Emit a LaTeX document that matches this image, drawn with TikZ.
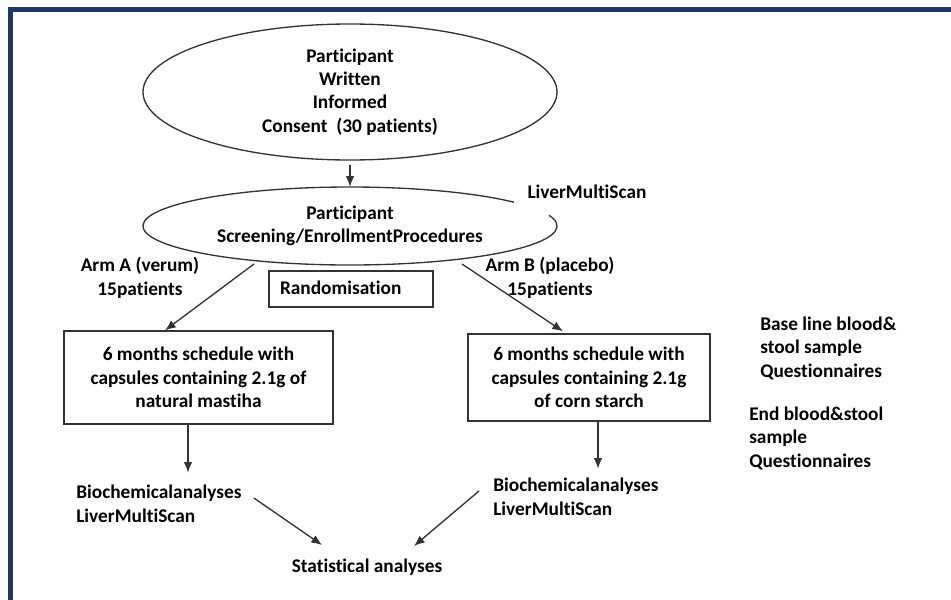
\documentclass[tikz,border=0pt]{standalone}
\usepackage{fontspec}
\setmainfont{Carlito}[RawFeature={-liga}]
\usepackage{tikz}
\usetikzlibrary{shapes.geometric,arrows.meta,calc}
\definecolor{frameblue}{RGB}{31,56,99}

\begin{document}
\begin{tikzpicture}[x=0.75pt,y=0.75pt,yscale=-1,xscale=1,
  every node/.style={font=\fontsize{14.5}{17.6}\selectfont\bfseries, inner sep=0pt},
  line/.style={draw=black!80, line width=1pt},
  arr/.style={line, -{Latex[length=8pt,width=6.5pt]}},
  ell/.style={ellipse, minimum width=310.5pt, align=center},
  box/.style={rectangle, draw=black!80, line width=1pt, align=center}]
\useasboundingbox (0,0) rectangle (951,600);

%Frame
\draw [frameblue, line width=3.75pt] (10.7,600) -- (10.7,9.5) -- (951,9.5) ;

%Shape: Ellipse
\node [ell, line, minimum height=102pt] (consent) at (350,92) {Participant\\Written\\Informed\\Consent~~(30 patients)};
%Shape: Ellipse, left open at upper right
\node [ell, minimum height=58.5pt] (scr) at (350,226) {Participant\\Screening/EnrollmentProcedures};
\draw [line] (scr.center) ++(-16:207 and 39) arc [start angle=-16, end angle=322.4, x radius=207, y radius=39] ;

% Text Node
\node (lmsTop) at (587,192) {LiverMultiScan};
% Text Node
\node [align=center] (armA) at (140,278) {Arm A (verum)\\15patients};
% Text Node
\node [align=center] (armB) at (550,278) {Arm B (placebo)\\15patients};

%Shape: Rectangle
\node [box, align=left, text width=106.5pt, inner xsep=8.25pt, minimum height=27pt] (rand) at (351,289) {\raisebox{2pt}{Randomisation}};
%Shape: Rectangle
\node [box, minimum width=201.75pt, minimum height=69.75pt] (boxA) at (198.5,377.5) {6 months schedule with\\capsules containing 2.1g of\\natural mastiha};
%Shape: Rectangle
\node [box, minimum width=181.5pt, minimum height=65.25pt] (boxB) at (589,377.5) {6 months schedule with\\capsules containing 2.1g\\of corn starch};

% Text Node
\node [anchor=west, align=left] (bioA) at (76,504) {Biochemicalanalyses\\LiverMultiScan};
% Text Node
\node [anchor=west, align=left] (bioB) at (493,497) {Biochemicalanalyses\\LiverMultiScan};
% Text Node
\node (stats) at (367,567) {Statistical analyses};
% Text Node
\node [anchor=west, align=left] (baseNote) at (760,348) {Base line blood\&\\stool sample\\Questionnaires};
% Text Node
\node [anchor=west, align=left] (endNote) at (749,438) {End blood\&stool\\sample\\Questionnaires};

%Straight Lines
\draw [arr, shorten <=3pt] (consent) -- (scr) ;
\draw [arr] ($(scr.center)+(-96,38)$) -- ($(boxA.north)+(-33.5,0)$) ;
\draw [arr] ($(scr.center)+(112,38)$) -- ($(boxB.north)+(-26,-2)$) ;
\draw [arr] ($(boxA.south)+(-10.5,0)$) -- ++(0,48) ;
\draw [arr] ($(boxB.south)+(9,0)$) -- ++(0,47) ;
\draw [arr] ($(bioA.east)+(12,-6)$) -- ($(stats.center)+(-45,-22)$) ;
\draw [arr] ($(bioB.west)+(-14,-6)$) -- ($(stats.center)+(47,-21)$) ;

\end{tikzpicture}
\end{document}
